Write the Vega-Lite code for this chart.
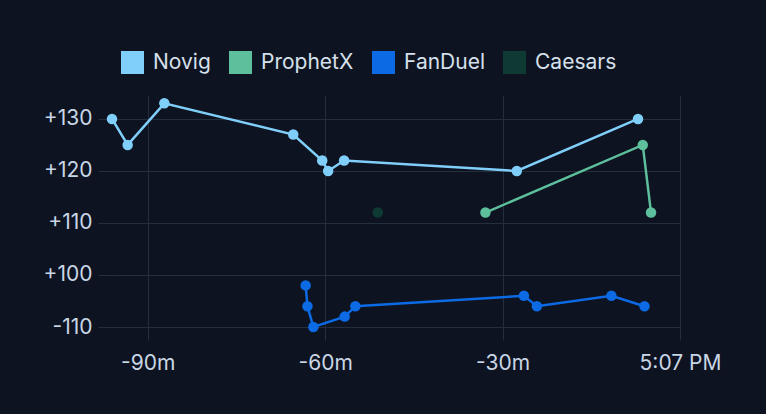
{
  "$schema": "https://vega.github.io/schema/vega-lite/v6.json",
  "width": 568,
  "height": 232,
  "autosize": {"type": "none"},
  "padding": {"left": 112, "top": 95, "right": 86, "bottom": 87},
  "background": "#0d1320",
  "config": {
    "font": "Inter",
    "view": {"stroke": null},
    "axis": {
      "domain": false,
      "gridColor": "#252e3c",
      "gridWidth": 1,
      "tickColor": "#252e3c",
      "labelColor": "#c9d6e6",
      "labelFont": "Inter",
      "labelFontSize": 21,
      "labelFontWeight": "normal",
      "title": null
    },
    "legend": {
      "labelColor": "#d6e0ec",
      "labelFont": "Inter",
      "labelFontSize": 21
    }
  },
  "data": {
    "values": [
      {"book": "Novig", "minutes": -96.05, "odds": 130},
      {"book": "Novig", "minutes": -93.4, "odds": 125},
      {"book": "Novig", "minutes": -87.2, "odds": 133},
      {"book": "Novig", "minutes": -65.4, "odds": 127},
      {"book": "Novig", "minutes": -60.5, "odds": 122},
      {"book": "Novig", "minutes": -59.5, "odds": 120},
      {"book": "Novig", "minutes": -56.8, "odds": 122},
      {"book": "Novig", "minutes": -27.6, "odds": 120},
      {"book": "Novig", "minutes": -7.1, "odds": 130},
      {"book": "ProphetX", "minutes": -32.9, "odds": 112},
      {"book": "ProphetX", "minutes": -6.3, "odds": 125},
      {"book": "ProphetX", "minutes": -4.9, "odds": 112},
      {"book": "FanDuel", "minutes": -63.3, "odds": 98},
      {"book": "FanDuel", "minutes": -63.0, "odds": 94},
      {"book": "FanDuel", "minutes": -62.0, "odds": 90},
      {"book": "FanDuel", "minutes": -56.7, "odds": 92},
      {"book": "FanDuel", "minutes": -54.9, "odds": 94},
      {"book": "FanDuel", "minutes": -26.4, "odds": 96},
      {"book": "FanDuel", "minutes": -24.2, "odds": 94},
      {"book": "FanDuel", "minutes": -11.6, "odds": 96},
      {"book": "FanDuel", "minutes": -6.0, "odds": 94},
      {"book": "Caesars", "minutes": -51.1, "odds": 112}
    ]
  },
  "encoding": {
    "x": {
      "field": "minutes",
      "type": "quantitative",
      "scale": {"domain": [-96.05, 0], "nice": false, "zero": false},
      "axis": {
        "values": [-90, -60, -30, 0],
        "labelExpr": "datum.value == 0 ? '5:07 PM' : datum.value + 'm'",
        "tickSize": 13,
        "labelPadding": 12,
        "labelFlush": false,
        "labelOverlap": false
      }
    },
    "y": {
      "field": "odds",
      "type": "quantitative",
      "scale": {"domain": [90, 134.6], "nice": false, "zero": false},
      "axis": {
        "values": [90, 100, 110, 120, 130],
        "labelExpr": "datum.value >= 100 ? '+' + datum.value : '-' + (200 - datum.value)",
        "tickSize": 14,
        "labelPadding": 6
      }
    },
    "color": {
      "field": "book",
      "type": "nominal",
      "scale": {
        "domain": ["Novig", "ProphetX", "FanDuel", "Caesars"],
        "range": ["#80cffa", "#5ebf9c", "#0b6ae4", "#0e3a33"]
      },
      "legend": {
        "title": null,
        "orient": "none",
        "direction": "horizontal",
        "legendX": 9,
        "legendY": -44,
        "symbolType": "square",
        "symbolSize": 529,
        "symbolStrokeWidth": 0,
        "symbolOpacity": 1,
        "labelOffset": 9,
        "columnPadding": 18
      }
    }
  },
  "layer": [
    {"mark": {"type": "line", "strokeWidth": 2.5}},
    {"mark": {"type": "circle", "size": 110, "opacity": 1}}
  ]
}
